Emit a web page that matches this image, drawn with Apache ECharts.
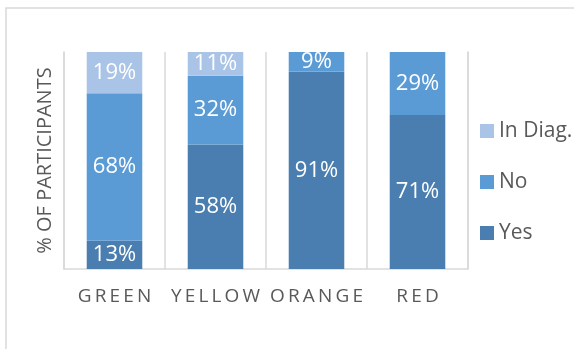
<!DOCTYPE html>
<html><head><meta charset="utf-8">
<script src="https://cdn.jsdelivr.net/npm/echarts@6/dist/echarts.min.js"></script>
<style>html,body{margin:0;padding:0;background:#fff}#c{width:574px;height:349px}</style>
</head><body><div id="c"></div>
<script>
var categories = ['GREEN', 'YELLOW', 'ORANGE', 'RED'];
var yesValues = [13, 58, 91, 71];
var noValues = [68, 32, 9, 29];
var inDiagValues = [19, 11, 0, 0];
var seriesNames = ['Yes', 'No', 'In Diag.'];
var legendOrder = ['In Diag.', 'No', 'Yes'];
var colors = ['#4a7eb0', '#5b9bd5', '#a9c4e6'];
var yAxisTitle = '% OF PARTICIPANTS';

var raw = [yesValues, noValues, inDiagValues];
var totals = categories.map(function (c, i) { return yesValues[i] + noValues[i] + inDiagValues[i]; });
var font = 'Open Sans';
var gridColor = '#d9d9d9';

var series = raw.map(function (vals, s) {
  return {
    name: seriesNames[s],
    type: 'bar',
    stack: 'total',
    barWidth: '55%',
    itemStyle: { color: colors[s] },
    label: {
      show: true,
      position: 'inside',
      color: '#ffffff',
      fontFamily: font,
      fontSize: 22,
      formatter: function (p) { return vals[p.dataIndex] > 0 ? vals[p.dataIndex] + '%' : ''; }
    },
    data: vals.map(function (v, i) { return v / totals[i] * 100; })
  };
});

var chart = echarts.init(document.getElementById('c'), null, { renderer: 'canvas' });
chart.setOption({
  animation: false,
  backgroundColor: '#ffffff',
  graphic: [{
    type: 'rect',
    shape: { x: 6, y: 8, width: 620, height: 400 },
    style: { fill: 'none', stroke: gridColor, lineWidth: 1.5 },
    silent: true
  }],
  grid: { left: 64, top: 52, right: 106, bottom: 80 },
  legend: {
    orient: 'vertical',
    left: 475,
    top: 115,
    data: legendOrder,
    itemWidth: 14,
    itemHeight: 14,
    itemGap: 29,
    icon: 'rect',
    textStyle: { fontFamily: font, fontSize: 21, color: '#595959', lineHeight: 22 }
  },
  xAxis: {
    type: 'category',
    data: categories,
    axisLine: { show: true, lineStyle: { color: gridColor, width: 1.5 } },
    axisTick: { show: false },
    splitLine: { show: true, interval: 0, lineStyle: { color: gridColor, width: 1.5 } },
    axisLabel: {
      interval: 0,
      margin: 18,
      fontFamily: font,
      fontSize: 19,
      color: '#595959',
      formatter: function (v) { return v.split('').join('\u2009'); }
    }
  },
  yAxis: [{
    type: 'value',
    min: 0,
    max: 100,
    axisLabel: { show: false },
    axisLine: { show: true, lineStyle: { color: gridColor, width: 1.5 } },
    axisTick: { show: false },
    splitLine: { show: false },
    name: yAxisTitle,
    nameLocation: 'middle',
    nameRotate: 90,
    nameGap: 9,
    nameTextStyle: { fontFamily: font, fontSize: 20, color: '#595959' }
  }, {
    type: 'value',
    position: 'right',
    min: 0,
    max: 100,
    axisLabel: { show: false },
    axisLine: { show: true, lineStyle: { color: gridColor, width: 1.5 } },
    axisTick: { show: false },
    splitLine: { show: false }
  }],
  series: series
});
</script>
</body></html>
